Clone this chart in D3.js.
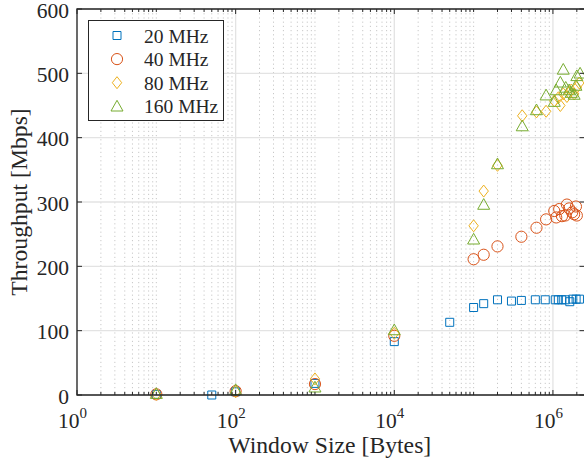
<!DOCTYPE html>
<html>
<head>
<meta charset="utf-8">
<script src="https://cdn.jsdelivr.net/npm/d3@7"></script>
<style>
body { margin: 0; background: #fff; }
svg text { font-family: "Liberation Serif", "DejaVu Serif", serif; fill: #262626; }
</style>
</head>
<body>
<div id="chart"></div>
<script>
const width = 584
const height = 465

// window sizes [bytes] and throughput [Mbps] per channel width
const sizes20 = [10, 50, 100, 1000, 1e4, 5e4, 1e5, 1.34e5, 2e5, 3e5, 4e5, 6e5, 8e5, 1.07e6, 1.17e6, 1.29e6, 1.43e6, 1.63e6, 1.78e6, 1.96e6, 2.16e6]
const tput20 = [1, 0, 5, 18, 83, 113, 136, 142, 148, 146, 147, 148, 148, 148, 148, 148, 148, 145, 149, 149, 149]

const sizes40 = [10, 100, 1000, 1e4, 1e5, 1.34e5, 2e5, 4e5, 6.2e5, 8.2e5, 1.04e6, 1.1e6, 1.2e6, 1.3e6, 1.43e6, 1.5e6, 1.6e6, 1.75e6, 1.85e6, 1.95e6, 2e6]
const tput40 = [1, 6, 17, 92, 211, 218, 231, 246, 260, 273, 286, 276, 289, 278, 279, 296, 290, 284, 281, 293, 279]

const sizes80 = [10, 100, 1000, 1e4, 1e5, 1.34e5, 2e5, 4.1e5, 6.2e5, 8.2e5, 1.04e6, 1.17e6, 1.24e6, 1.35e6, 1.5e6, 1.6e6, 1.7e6, 1.85e6, 2e6, 2.15e6]
const tput80 = [1, 5, 25, 96, 263, 317, 357, 434, 440, 441, 457, 462, 450, 468, 464, 470, 474, 468, 478, 485]

const sizes160 = [10, 100, 1000, 1e4, 1e5, 1.34e5, 2e5, 4.1e5, 6.2e5, 8.2e5, 1.04e6, 1.1e6, 1.24e6, 1.35e6, 1.45e6, 1.6e6, 1.7e6, 1.85e6, 1.95e6, 2e6, 2.2e6]
const tput160 = [2, 8, 12, 101, 242, 296, 359, 418, 443, 466, 456, 474, 486, 506, 478, 474, 470, 467, 481, 496, 500]

const seriesNames = ["20 MHz", "40 MHz", "80 MHz", "160 MHz"]
const seriesColors = ["#0072BD", "#D95319", "#EDB120", "#77AC30"]
const seriesShapes = ["square", "circle", "diamond", "triangle"]

const yTicks = [0, 100, 200, 300, 400, 500, 600]
const xMajor = [1, 100, 1e4, 1e6]

const series = [
  { name: seriesNames[0], sizes: sizes20, tput: tput20 },
  { name: seriesNames[1], sizes: sizes40, tput: tput40 },
  { name: seriesNames[2], sizes: sizes80, tput: tput80 },
  { name: seriesNames[3], sizes: sizes160, tput: tput160 }
]

const pLeft = 77, pRight = 584.5, pTop = 9, pBottom = 395

const x = d3.scaleLog().domain([1, 2.5e6]).range([pLeft, pRight])
const y = d3.scaleLinear().domain([0, 600]).range([pBottom, pTop])

const svg = d3.select("#chart")
  .append("svg")
  .attr("width", width)
  .attr("height", height)

// minor tick positions: 2..10 x 10^k (10^odd counts as minor)
const xMinor = []
for (let k = 0; k < 7; k++) {
  for (let m = 2; m <= 10; m++) {
    const v = m * Math.pow(10, k)
    if (v <= 2.5e6 && !xMajor.includes(v)) xMinor.push(v)
  }
}

// grid
const grid = svg.append("g")
grid.selectAll(".gxm")
  .data(xMinor)
  .enter().append("line")
  .attr("x1", d => x(d)).attr("x2", d => x(d))
  .attr("y1", pTop).attr("y2", pBottom)
  .attr("stroke", "#c8c8c8")
  .attr("stroke-width", 1)
  .attr("stroke-dasharray", "1.2,3")

grid.selectAll(".gx")
  .data(xMajor)
  .enter().append("line")
  .attr("x1", d => x(d)).attr("x2", d => x(d))
  .attr("y1", pTop).attr("y2", pBottom)
  .attr("stroke", "#e3e3e3")
  .attr("stroke-width", 1.3)

grid.selectAll(".gy")
  .data(yTicks)
  .enter().append("line")
  .attr("x1", pLeft).attr("x2", pRight)
  .attr("y1", d => y(d)).attr("y2", d => y(d))
  .attr("stroke", "#e3e3e3")
  .attr("stroke-width", 1.3)

// marker paths
function markerPath(shape) {
  if (shape === "square") return "M-4,-4H4V4H-4Z"
  if (shape === "diamond") return "M0,-6L4.7,0L0,6L-4.7,0Z"
  if (shape === "triangle") return "M0,-6L6,4.7H-6Z"
  return null
}

const plot = svg.append("g")
series.forEach((s, i) => {
  const pts = s.sizes.map((v, j) => [v, s.tput[j]])
  const g = plot.append("g")
  if (seriesShapes[i] === "circle") {
    g.selectAll("circle")
      .data(pts)
      .enter().append("circle")
      .attr("cx", d => x(d[0]))
      .attr("cy", d => y(d[1]))
      .attr("r", 5.6)
      .attr("fill", "none")
      .attr("stroke", seriesColors[i])
      .attr("stroke-width", 1)
  } else {
    g.selectAll("path")
      .data(pts)
      .enter().append("path")
      .attr("d", markerPath(seriesShapes[i]))
      .attr("transform", d => `translate(${x(d[0])},${y(d[1])})`)
      .attr("fill", "none")
      .attr("stroke", seriesColors[i])
      .attr("stroke-width", 1)
  }
})

// axes box
const axisColor = "#262626"
const box = svg.append("g")
box.append("path")
  .attr("d", `M${pRight},${pTop}H${pLeft}V${pBottom}H${pRight}`)
  .attr("fill", "none")
  .attr("stroke", axisColor)
  .attr("stroke-width", 1.3)

// x ticks (inward, top and bottom)
box.selectAll(".xtm")
  .data(xMinor)
  .enter().append("path")
  .attr("d", d => `M${x(d)},${pBottom}v-3M${x(d)},${pTop}v3`)
  .attr("stroke", axisColor)
  .attr("stroke-width", 1)
box.selectAll(".xt")
  .data(xMajor)
  .enter().append("path")
  .attr("d", d => `M${x(d)},${pBottom}v-5M${x(d)},${pTop}v5`)
  .attr("stroke", axisColor)
  .attr("stroke-width", 1)

// y ticks (inward, left and right)
box.selectAll(".yt")
  .data(yTicks)
  .enter().append("path")
  .attr("d", d => `M${pLeft},${y(d)}h5M${pRight},${y(d)}h-5`)
  .attr("stroke", axisColor)
  .attr("stroke-width", 1)

// y tick labels
svg.selectAll(".ytl")
  .data(yTicks)
  .enter().append("text")
  .attr("x", 69)
  .attr("y", d => y(d) + 8.5)
  .attr("text-anchor", "end")
  .style("font-size", "21.5px")
  .text(d => d)

// x tick labels 10^k
const xl = svg.selectAll(".xtl")
  .data(xMajor)
  .enter().append("text")
  .attr("x", d => x(d) - 4.5)
  .attr("y", 428)
  .attr("text-anchor", "middle")
  .style("font-size", "21.5px")
xl.append("tspan").text("10")
xl.append("tspan")
  .attr("dy", -10)
  .style("font-size", "15px")
  .text(d => Math.round(Math.log10(d)))

// axis labels
svg.append("text")
  .attr("x", (pLeft + pRight) / 2 - 1)
  .attr("y", 453)
  .attr("text-anchor", "middle")
  .style("font-size", "23.7px")
  .text("Window Size [Bytes]")

svg.append("text")
  .attr("transform", `translate(27,${(pTop + pBottom) / 2}) rotate(-90)`)
  .attr("text-anchor", "middle")
  .style("font-size", "23.7px")
  .text("Throughput [Mbps]")

// legend
const lg = svg.append("g")
lg.append("rect")
  .attr("x", 88.5).attr("y", 20.5)
  .attr("width", 135).attr("height", 100)
  .attr("fill", "#fff")
  .attr("stroke", axisColor)
  .attr("stroke-width", 1)

const items = lg.selectAll(".li")
  .data(seriesNames)
  .enter().append("g")
  .attr("transform", (d, i) => `translate(117,${35.5 + i * 23.6})`)

items.each(function(d, i) {
  const g = d3.select(this)
  if (seriesShapes[i] === "circle") {
    g.append("circle").attr("r", 5.6)
      .attr("fill", "none").attr("stroke", seriesColors[i]).attr("stroke-width", 1)
  } else {
    g.append("path").attr("d", markerPath(seriesShapes[i]))
      .attr("fill", "none").attr("stroke", seriesColors[i]).attr("stroke-width", 1)
  }
  g.append("text")
    .attr("x", 27)
    .attr("y", 7)
    .style("font-size", "19.5px")
    .text(d)
})
</script>
</body>
</html>
